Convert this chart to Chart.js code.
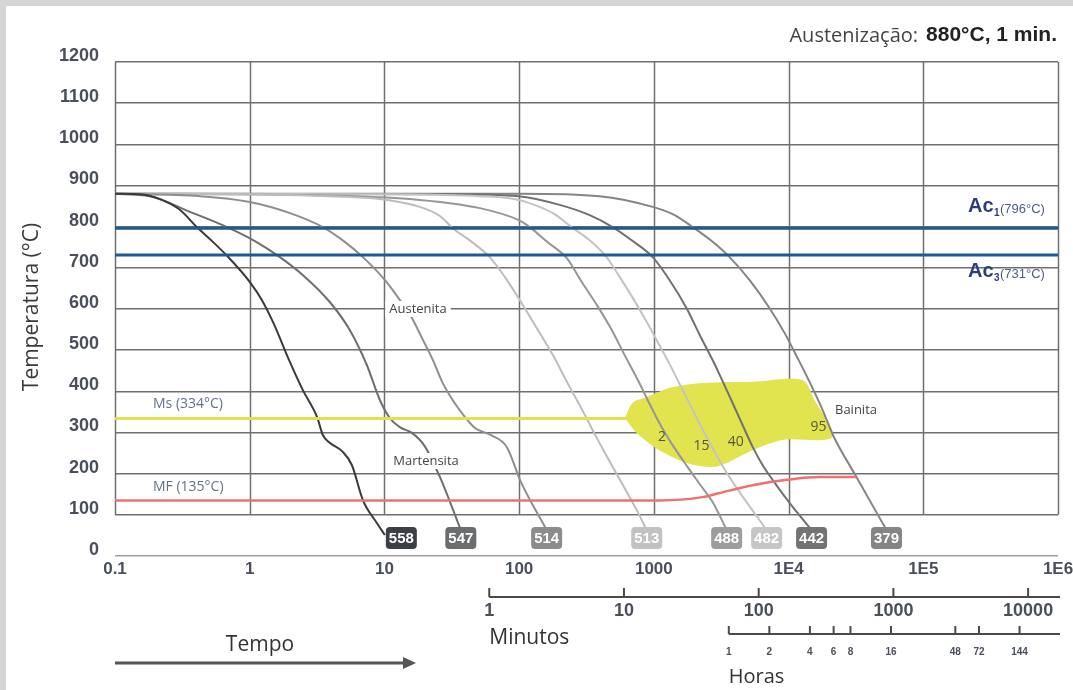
<!DOCTYPE html>
<html>
<head>
<meta charset="utf-8">
<script src="https://cdn.jsdelivr.net/npm/chart.js@4.4.1/dist/chart.umd.min.js"></script>
<style>
  html, body { margin: 0; padding: 0; background: #fff; }
</style>
</head>
<body>
<canvas id="cct" width="1073" height="690"></canvas>
<script>
// cooling curves, [time (s), temperature (°C)]
const hardness = [558, 547, 514, 513, 488, 482, 442, 379];
const c558 = [[0.1,880],[0.153,879],[0.216,867],[0.303,841],[0.405,799],[0.533,763],[0.689,727],[1.0,666],[1.23,622],[1.49,568],[1.99,471],[2.48,403],[3.16,338],[3.49,294],[3.93,275],[4.91,253],[5.73,221],[6.92,136],[8.79,80],[10.07,51]];
const c547 = [[0.1,880],[0.182,874],[0.36,836],[0.678,799],[1.093,765],[1.675,726],[2.57,678],[3.93,617],[5.53,549],[7.4,464],[9.25,379],[10.97,335],[13.0,313],[16.0,299],[19.9,267],[25.8,192],[36.9,63]];
const c514 = [[0.1,880],[0.428,874],[1.0,860],[1.99,833],[3.49,799],[5.08,763],[6.92,726],[10.1,670],[13.0,622],[16.0,578],[19.3,525],[22.9,476],[27.1,420],[33.3,371],[39.5,338],[46.9,311],[61.5,294],[80.9,265],[103,180],[160,63]];
const c513 = [[0.1,880],[1,879],[5.5,872],[9.25,867],[18.3,848],[25.8,826],[32,797],[44.5,763],[60.5,726],[78.2,678],[101,622],[135,554],[178,488],[229,420],[297,352],[364,296],[446,243],[530,199],[628,156],[745,112],[885,63]];
const c488 = [[0.1,880],[2.35,877],[18.3,865],[51,845],[99.3,816],[120,799],[163,762],[225,724],[291,666],[377,610],[487,549],[607,488],[759,428],[931,369],[1143,313],[1426,262],[1782,216],[2188,175],[2730,131],[3470,63]];
const c482 = [[0.1,880],[13,879],[51,874],[99.3,865],[142,848],[184,830],[245,799],[334,767],[446,726],[557,678],[697,627],[869,573],[1067,520],[1310,466],[1607,408],[1973,350],[2594,275],[3470,202],[4880,131],[6870,63]];
const c442 = [[0.1,880],[30,879],[99,874],[200,853],[334,828],[494,799],[697,765],[980,726],[1310,670],[1750,602],[2190,537],[2730,476],[3080,440],[3850,371],[4560,318],[5410,265],[6410,221],[7610,185],[10170,129],[14820,63]];
const c379 = [[0.1,880],[101,880],[396,874],[980,848],[1426,828],[1940,799],[2690,765],[3650,726],[5140,670],[7230,602],[9330,542],[11660,481],[14560,418],[17870,355],[21560,291],[31900,192],[53300,63]];
const curves = [c558, c547, c514, c513, c488, c482, c442, c379];

const ac1 = 796;
const ac3 = 731;
const msLine = [[0.1,334],[620,334]];
const mfLine = [[0.1,135],[1100,135],[2300,143],[3080,153],[5400,172],[9670,185],[17000,192],[31900,192]];
const bainite = [[607,334],[697,372],[885,386],[1310,408],[2300,420],[5400,423],[12700,427],[15500,380],[21200,289],[9020,282],[5400,257],[3470,226],[2730,216],[1750,226],[1100,257],[745,299],[628,330]];
const bainitePct = ['2', '15', '40', '95'];
const bainitePctAt = [[1150,289],[2260,267],[4050,277],[16700,313]];

const xTicks = [0.1, 1, 10, 100, 1000, 1e4, 1e5, 1e6];
const xTickLabels = ['0.1', '1', '10', '100', '1000', '1E4', '1E5', '1E6'];
const minuteTicks = [1, 10, 100, 1000, 10000];
const hourTicks = [1, 2, 4, 6, 8, 16, 48, 72, 144];

// styles
const lineColors = ['#3a3a3a', '#6e6e6e', '#8e8e8e', '#bdbdbd', '#969696', '#c3c3c3', '#707070', '#858585'];
const tagColors = ['#3c3f44', '#6c6d6f', '#8c8c8c', '#c2c2c2', '#9d9d9d', '#c6c6c6', '#737373', '#858585'];
const bold = "'Liberation Sans', Arial, sans-serif";
const sans = "'Open Sans', 'Noto Sans', sans-serif";
const tickColor = '#4a4f5c';

const pts = arr => arr.map(p => ({x: p[0], y: p[1]}));

const datasets = [];
datasets.push({data: pts([[0.1, ac1], [1e6, ac1]]), borderColor: '#1d5a97', borderWidth: 3});
datasets.push({data: pts([[0.1, ac3], [1e6, ac3]]), borderColor: '#1d5a97', borderWidth: 3});
datasets.push({data: pts(msLine), borderColor: '#dfe24e', borderWidth: 3});
datasets.push({data: pts(mfLine), borderColor: '#f07070', borderWidth: 2.5, cubicInterpolationMode: 'monotone'});
curves.forEach((c, i) => {
    datasets.push({
        data: pts(c),
        borderColor: lineColors[i],
        borderWidth: 2,
        cubicInterpolationMode: 'monotone',
        tagIndex: i
    });
});
datasets.push({data: pts(bainite), borderWidth: 0, borderColor: 'rgba(0,0,0,0)', backgroundColor: '#e1e34f', fill: 'shape', tension: 0.3});

function roundRect(ctx, x, y, w, h, r) {
    ctx.beginPath();
    ctx.moveTo(x + r, y);
    ctx.lineTo(x + w - r, y);
    ctx.quadraticCurveTo(x + w, y, x + w, y + r);
    ctx.lineTo(x + w, y + h - r);
    ctx.quadraticCurveTo(x + w, y + h, x + w - r, y + h);
    ctx.lineTo(x + r, y + h);
    ctx.quadraticCurveTo(x, y + h, x, y + h - r);
    ctx.lineTo(x, y + r);
    ctx.quadraticCurveTo(x, y, x + r, y);
    ctx.closePath();
}

function text(ctx, str, x, y, font, color, align) {
    ctx.font = font;
    ctx.fillStyle = color;
    ctx.textAlign = align || 'center';
    ctx.textBaseline = 'middle';
    ctx.fillText(str, x, y);
}

const background = {
    id: 'background',
    beforeDraw(chart) {
        const ctx = chart.ctx;
        ctx.save();
        ctx.fillStyle = '#fff';
        ctx.fillRect(0, 0, chart.width, chart.height);
        ctx.fillStyle = '#d5d5d5';
        ctx.fillRect(0, 0, 6, chart.height);
        ctx.fillRect(0, 0, chart.width, 6);
        ctx.restore();
    }
};

const frame = {
    id: 'frame',
    beforeDatasetsDraw(chart) {
        const {ctx, scales: {x, y}} = chart;
        ctx.save();
        ctx.strokeStyle = '#6f6f6f';
        ctx.lineWidth = 1.5;
        xTicks.forEach(v => {
            const px = Math.round(x.getPixelForValue(v)) + 0.5;
            ctx.beginPath();
            ctx.moveTo(px, y.getPixelForValue(1200));
            ctx.lineTo(px, y.getPixelForValue(100));
            ctx.stroke();
        });
        ctx.restore();
    }
};

const notes = {
    id: 'notes',
    afterDatasetsDraw(chart) {
        const {ctx, scales: {x, y}} = chart;
        ctx.save();

        // hardness tags at the end of each curve
        chart.data.datasets.forEach((ds, di) => {
            if (ds.tagIndex === undefined) return;
            const meta = chart.getDatasetMeta(di);
            const last = meta.data[meta.data.length - 1];
            const w = 31, h = 22;
            let bx = last.x - w / 2, by = last.y - 3;
            if (ds.tagIndex === 0) { bx = last.x + 1; by = last.y - 8; }
            roundRect(ctx, bx, by, w, h, 4);
            ctx.fillStyle = tagColors[ds.tagIndex];
            ctx.fill();
            text(ctx, String(hardness[ds.tagIndex]), bx + w / 2, by + h / 2 + 1, 'bold 15px ' + bold, '#fff');
        });

        // bainite percentages
        bainitePct.forEach((s, i) => {
            text(ctx, s, x.getPixelForValue(bainitePctAt[i][0]), y.getPixelForValue(bainitePctAt[i][1]), '14px ' + sans, '#55553f');
        });

        // region labels with white backing
        [['Austenita', 418, 309], ['Martensita', 426, 461]].forEach(([s, px, py]) => {
            ctx.font = '13px ' + sans;
            const w = ctx.measureText(s).width + 8;
            ctx.fillStyle = '#fff';
            ctx.fillRect(px - w / 2, py - 8, w, 16);
            text(ctx, s, px, py, '13px ' + sans, '#444');
        });
        text(ctx, 'Bainita', 856, 410, '13px ' + sans, '#444');

        // Ms / Mf labels
        text(ctx, 'Ms (334°C)', 153, 404, '14px ' + sans, '#62718a', 'left');
        text(ctx, 'MF (135°C)', 153, 487, '14px ' + sans, '#62718a', 'left');

        // Ac labels
        [['1', '(796°C)', 206], ['3', '(731°C)', 271]].forEach(([sub, val, py]) => {
            text(ctx, 'Ac', 968, py, 'bold 20px ' + bold, '#2c3d7d', 'left');
            text(ctx, sub, 994, py + 7, 'bold 10px ' + bold, '#2c3d7d', 'left');
            text(ctx, val, 1000, py + 3, '13px ' + bold, '#4d5f82', 'left');
        });

        // heading
        ctx.font = 'bold 21px ' + bold;
        const bw = ctx.measureText('880°C, 1 min.').width;
        text(ctx, '880°C, 1 min.', 1057, 35, 'bold 21px ' + bold, '#222', 'right');
        text(ctx, 'Austenização:', 1057 - bw - 8, 36, '20px ' + sans, '#444', 'right');

        // y axis title
        ctx.save();
        ctx.translate(32, 307);
        ctx.rotate(-Math.PI / 2);
        text(ctx, 'Temperatura (°C)', 0, 0, '21px ' + sans, '#3a3a3a');
        ctx.restore();

        // minutes and hours axes, placed through the seconds scale
        ctx.strokeStyle = '#4a4a4a';
        ctx.lineWidth = 2;
        const right = 1060;
        const mY = 597, hY = 634;
        ctx.beginPath();
        ctx.moveTo(x.getPixelForValue(minuteTicks[0] * 60), mY);
        ctx.lineTo(right, mY);
        ctx.moveTo(x.getPixelForValue(hourTicks[0] * 3600), hY);
        ctx.lineTo(right, hY);
        minuteTicks.forEach(m => {
            const px = x.getPixelForValue(m * 60);
            ctx.moveTo(px, mY); ctx.lineTo(px, mY - 9);
        });
        hourTicks.forEach(hh => {
            const px = x.getPixelForValue(hh * 3600);
            ctx.moveTo(px, hY); ctx.lineTo(px, hY - 8);
        });
        ctx.stroke();
        minuteTicks.forEach(m => {
            text(ctx, String(m), x.getPixelForValue(m * 60), 611, 'bold 18px ' + bold, tickColor);
        });
        hourTicks.forEach(hh => {
            text(ctx, String(hh), x.getPixelForValue(hh * 3600), 652, 'bold 10px ' + bold, tickColor);
        });
        text(ctx, 'Minutos', x.getPixelForValue(60), 638, '21px ' + sans, '#333', 'left');
        text(ctx, 'Horas', x.getPixelForValue(3600), 677, '20px ' + sans, '#333', 'left');

        // time arrow
        text(ctx, 'Tempo', 260, 645, '21px ' + sans, '#333');
        ctx.strokeStyle = '#555';
        ctx.fillStyle = '#555';
        ctx.lineWidth = 3;
        ctx.beginPath();
        ctx.moveTo(115, 663);
        ctx.lineTo(405, 663);
        ctx.stroke();
        ctx.beginPath();
        ctx.moveTo(416, 663);
        ctx.lineTo(403, 657);
        ctx.lineTo(403, 669);
        ctx.closePath();
        ctx.fill();

        ctx.restore();
    }
};

new Chart(document.getElementById('cct'), {
    type: 'scatter',
    data: {datasets: datasets},
    options: {
        responsive: false,
        animation: false,
        devicePixelRatio: 1,
        showLine: true,
        elements: {point: {radius: 0}},
        layout: {padding: {top: 62, right: 15, left: 0, bottom: 0}},
        plugins: {legend: {display: false}, tooltip: {enabled: false}},
        scales: {
            x: {
                type: 'logarithmic',
                min: 0.1,
                max: 1e6,
                afterBuildTicks: s => { s.ticks = xTicks.map(v => ({value: v})); },
                afterFit: s => { s.height = 134; },
                grid: {display: false},
                border: {display: false},
                ticks: {
                    autoSkip: false,
                    maxRotation: 0,
                    padding: -5,
                    color: tickColor,
                    font: {family: bold, size: 17, weight: 'bold'},
                    callback: (v, i) => xTickLabels[i]
                }
            },
            y: {
                min: 0,
                max: 1200,
                afterFit: s => { s.width = 115; },
                grid: {
                    drawTicks: false,
                    lineWidth: 1.5,
                    color: c => c.tick && c.tick.value === 0 ? '#a0a0a0' : '#6f6f6f'
                },
                border: {display: false},
                ticks: {
                    stepSize: 100,
                    padding: 16,
                    labelOffset: -6,
                    color: tickColor,
                    font: {family: bold, size: 18, weight: 'bold'},
                    callback: v => String(v)
                }
            }
        }
    },
    plugins: [background, frame, notes]
});
</script>
</body>
</html>
